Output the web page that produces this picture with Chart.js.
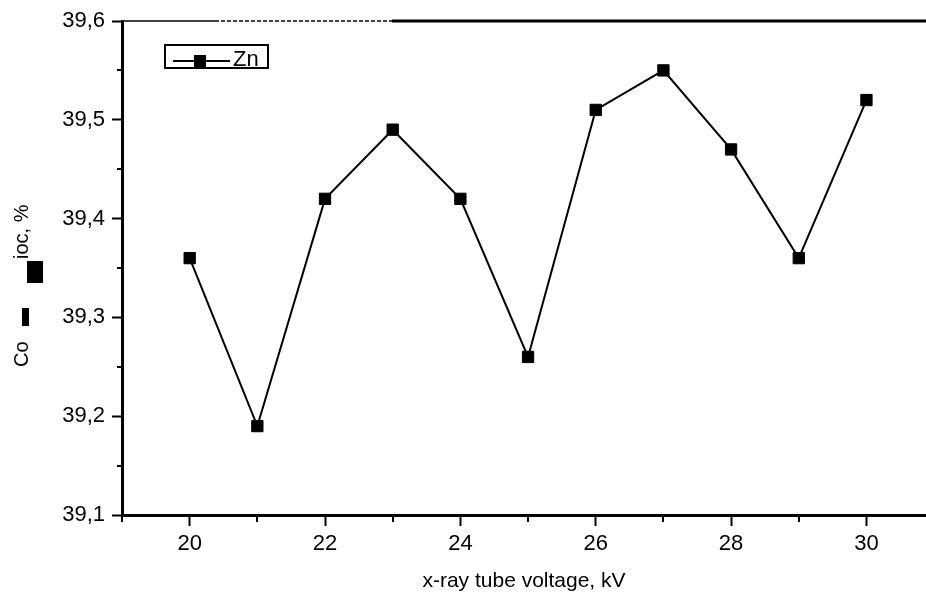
<!DOCTYPE html>
<html>
<head>
<meta charset="utf-8">
<script src="https://cdn.jsdelivr.net/npm/chart.js@4/dist/chart.umd.min.js"></script>
<style>
  html, body { margin: 0; padding: 0; background: #fff; }
  #wrap { width: 926px; height: 598px; }
</style>
</head>
<body>
<div id="wrap"><canvas id="chartZn" width="926" height="598"></canvas></div>
<script>
// tube voltage (kV) and measured Zn content (%)
const voltages = [20, 21, 22, 23, 24, 25, 26, 27, 28, 29, 30];
const znContent = [39.36, 39.19, 39.42, 39.49, 39.42, 39.26, 39.51, 39.55, 39.47, 39.36, 39.52];
const xMajorTicks = [20, 22, 24, 26, 28, 30];
const xMinorTicks = [19, 21, 23, 25, 27, 29];
const yMajorTicks = [39.1, 39.2, 39.3, 39.4, 39.5, 39.6];
const yMinorTicks = [39.15, 39.25, 39.35, 39.45, 39.55];

const FONT = "'Liberation Sans', Arial, sans-serif";

// minor ticks, top frame line, legend box and the y axis caption
const decorations = {
  id: "decorations",
  afterDraw(chart) {
    const ctx = chart.ctx;
    const area = chart.chartArea;
    const xs = chart.scales.x;
    const ys = chart.scales.y;
    ctx.save();
    ctx.strokeStyle = "#000";
    ctx.fillStyle = "#000";

    ctx.lineWidth = 2;
    xMinorTicks.forEach(function (v) {
      const px = Math.round(xs.getPixelForValue(v));
      ctx.beginPath();
      ctx.moveTo(px, area.bottom);
      ctx.lineTo(px, area.bottom + 7);
      ctx.stroke();
    });
    yMinorTicks.forEach(function (v) {
      const py = Math.round(ys.getPixelForValue(v));
      ctx.beginPath();
      ctx.moveTo(area.left, py);
      ctx.lineTo(area.left - 5, py);
      ctx.stroke();
    });

    // top frame: thin / dotted on the left, heavy on the right
    ctx.lineWidth = 1.5;
    ctx.beginPath();
    ctx.moveTo(area.left, area.top);
    ctx.lineTo(215, area.top);
    ctx.stroke();
    ctx.setLineDash([4, 2]);
    ctx.beginPath();
    ctx.moveTo(215, area.top);
    ctx.lineTo(392, area.top);
    ctx.stroke();
    ctx.setLineDash([]);
    ctx.lineWidth = 3;
    ctx.beginPath();
    ctx.moveTo(392, area.top);
    ctx.lineTo(area.right, area.top);
    ctx.stroke();

    // legend
    ctx.lineWidth = 2;
    ctx.strokeRect(165, 45, 103, 23);
    ctx.beginPath();
    ctx.moveTo(173, 61);
    ctx.lineTo(230, 61);
    ctx.stroke();
    ctx.fillRect(194, 55, 12, 12);
    ctx.font = "22px " + FONT;
    ctx.textBaseline = "middle";
    ctx.textAlign = "left";
    ctx.fillText("Zn", 233, 60);

    // y axis caption
    ctx.fillRect(22, 308, 7, 18);
    ctx.fillRect(27, 261, 16, 22);
    ctx.font = "20px " + FONT;
    ctx.textBaseline = "alphabetic";
    ctx.save();
    ctx.translate(28, 367);
    ctx.rotate(-Math.PI / 2);
    ctx.fillText("Co", 0, 0);
    ctx.restore();
    ctx.save();
    ctx.translate(28, 259);
    ctx.rotate(-Math.PI / 2);
    ctx.fillText("ioc, %", 0, 0);
    ctx.restore();

    ctx.restore();
  },
};

const dataZn = {
  labels: voltages,
  datasets: [
    {
      label: "Zn",
      data: voltages.map(function (v, i) { return { x: v, y: znContent[i] }; }),
      borderColor: "#000",
      backgroundColor: "#000",
      borderWidth: 2,
      pointStyle: "rect",
      pointRadius: 8,
      pointBorderWidth: 1,
      pointBackgroundColor: "#000",
      pointBorderColor: "#000",
      tension: 0,
      fill: false,
    },
  ],
};

const configZn = {
  type: "line",
  data: dataZn,
  options: {
    responsive: false,
    animation: false,
    devicePixelRatio: 1,
    layout: {
      autoPadding: false,
      padding: { top: 21, left: 0, right: 0, bottom: 0 },
    },
    plugins: {
      legend: { display: false },
      tooltip: { enabled: false },
    },
    scales: {
      x: {
        type: "linear",
        min: 19,
        max: 30.88,
        afterBuildTicks: function (scale) {
          scale.ticks = xMajorTicks.map(function (v) { return { value: v }; });
        },
        afterFit: function (scale) {
          scale.height = 83;
          scale.paddingLeft = 0;
          scale.paddingRight = 0;
        },
        ticks: {
          color: "#000",
          font: { family: FONT, size: 22 },
          padding: 5,
          maxRotation: 0,
          callback: function (v) { return String(v); },
        },
        grid: {
          drawOnChartArea: false,
          color: "#000",
          tickLength: 11,
          tickWidth: 2,
        },
        border: { color: "#000", width: 3 },
        title: {
          display: true,
          text: "x-ray tube voltage, kV",
          color: "#000",
          font: { family: FONT, size: 21 },
          padding: { top: 0, bottom: 4 },
        },
      },
      y: {
        type: "linear",
        min: 39.1,
        max: 39.6,
        afterBuildTicks: function (scale) {
          scale.ticks = yMajorTicks.map(function (v) { return { value: v }; });
        },
        afterFit: function (scale) {
          scale.width = 122;
          scale.paddingTop = 0;
          scale.paddingBottom = 0;
        },
        ticks: {
          color: "#000",
          font: { family: FONT, size: 22 },
          padding: 7,
          callback: function (v) { return v.toFixed(1).replace(".", ","); },
        },
        grid: {
          drawOnChartArea: false,
          color: "#000",
          tickLength: 10,
          tickWidth: 2,
        },
        border: { color: "#000", width: 3 },
      },
    },
  },
  plugins: [decorations],
};

const chartZn = new Chart(document.getElementById("chartZn"), configZn);
</script>
</body>
</html>
